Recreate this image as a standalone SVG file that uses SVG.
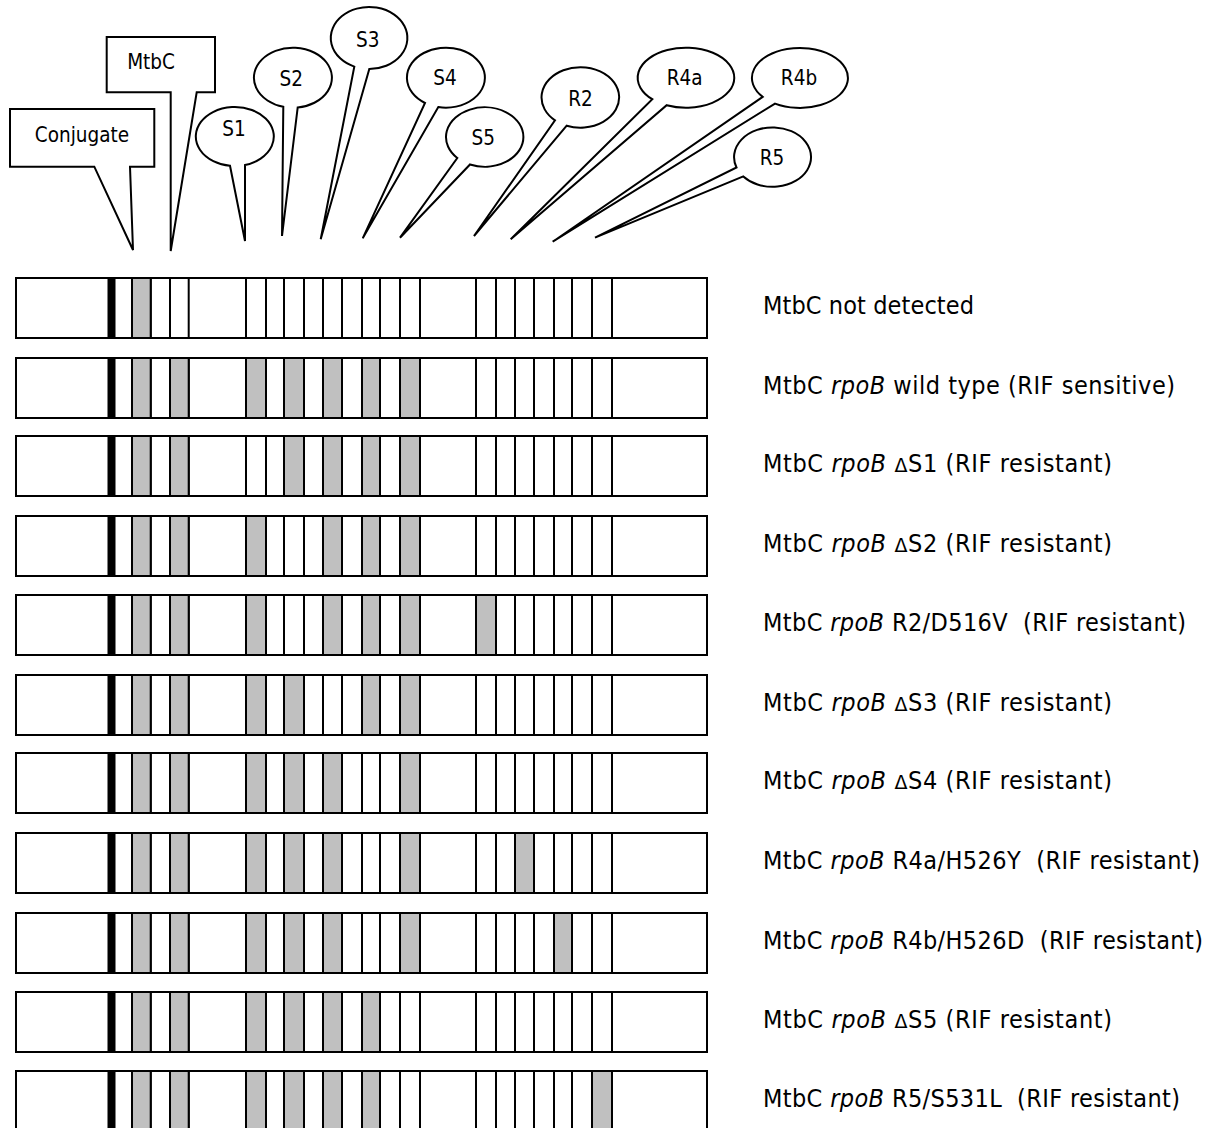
<svg xmlns="http://www.w3.org/2000/svg" xmlns:xlink="http://www.w3.org/1999/xlink" width="1213" height="1128" viewBox="0 0 1213 1128">
<style>
  .co { fill: #fff; stroke: #000; stroke-width: 2; stroke-linejoin: miter; }
  .ct { font-family: "DejaVu Sans Condensed", "DejaVu Sans", sans-serif; font-stretch: condensed; font-size: 20.5px; fill: #000; text-anchor: middle; }
  .lbl { font-family: "DejaVu Sans Condensed", "DejaVu Sans", sans-serif; font-stretch: condensed; font-size: 25px; fill: #000; }
  .it { font-style: italic; }
  .dl { font-family: "DejaVu Sans", sans-serif; font-stretch: normal; font-size: 19px; }
  .frame { fill: #fff; stroke: #000; stroke-width: 2; }
  .w { fill: #fff; stroke: #000; stroke-width: 2; }
  .g { fill: #c0c0c0; stroke: #000; stroke-width: 2; }
  .blk { fill: #000; stroke: #000; stroke-width: 1; }
</style>
<defs>
  <g id="strip">
    <rect class="frame" x="16" y="0" width="691" height="60"/>
    <rect class="blk" x="108" y="0" width="7" height="60"/>
    <rect class="w" x="132" y="0" width="18.7" height="60"/>
    <rect class="w" x="170" y="0" width="18.7" height="60"/>
    <rect class="w" x="246" y="0" width="20" height="60"/>
    <rect class="w" x="284" y="0" width="20" height="60"/>
    <rect class="w" x="323" y="0" width="19" height="60"/>
    <rect class="w" x="362" y="0" width="18" height="60"/>
    <rect class="w" x="400" y="0" width="20" height="60"/>
    <rect class="w" x="476" y="0" width="20" height="60"/>
    <rect class="w" x="515" y="0" width="19" height="60"/>
    <rect class="w" x="554" y="0" width="18" height="60"/>
    <rect class="w" x="592" y="0" width="20" height="60"/>
  </g>
  <rect id="bC" class="g" x="132" y="0" width="18.7" height="60"/>
  <rect id="bM" class="g" x="170" y="0" width="18.7" height="60"/>
  <rect id="bS1" class="g" x="246" y="0" width="20" height="60"/>
  <rect id="bS2" class="g" x="284" y="0" width="20" height="60"/>
  <rect id="bS3" class="g" x="323" y="0" width="19" height="60"/>
  <rect id="bS4" class="g" x="362" y="0" width="18" height="60"/>
  <rect id="bS5" class="g" x="400" y="0" width="20" height="60"/>
  <rect id="bR2" class="g" x="476" y="0" width="20" height="60"/>
  <rect id="bR4a" class="g" x="515" y="0" width="19" height="60"/>
  <rect id="bR4b" class="g" x="554" y="0" width="18" height="60"/>
  <rect id="bR5" class="g" x="592" y="0" width="20" height="60"/>
</defs>
<rect x="0" y="0" width="1213" height="1128" fill="#fff"/>

<g id="callouts">
  <g id="callout-conjugate">
    <path class="co" d="M130 166.7 L154.3 166.7 L154.3 109 L10 109 L10 166.7 L94.3 166.7 L133 250 Z"/>
    <text class="ct" x="82" y="141.5">Conjugate</text>
  </g>
  <g id="callout-mtbc">
    <path class="co" d="M196.7 92.3 L215 92.3 L215 37 L106.7 37 L106.7 92.3 L170.7 92.3 L170.7 251 Z"/>
    <text class="ct" x="151" y="69.3">MtbC</text>
  </g>
  <g id="callout-s1">
    <path class="co" d="M245 165 A39 29.5 0 1 0 230 165.8 L245 241 Z"/>
    <text class="ct" x="234" y="136">S1</text>
  </g>
  <g id="callout-s2">
    <path class="co" d="M297.7 107.5 A39 30 0 1 0 283.3 106.8 L282 236 Z"/>
    <text class="ct" x="291.3" y="86">S2</text>
  </g>
  <g id="callout-s3">
    <path class="co" d="M369.3 69 A38.3 31 0 1 0 354.3 66.6 L320.7 239.3 Z"/>
    <text class="ct" x="367.7" y="46.7">S3</text>
  </g>
  <g id="callout-s4">
    <path class="co" d="M438.3 107.1 A39 30 0 1 0 425 103 L362.7 238.3 Z"/>
    <text class="ct" x="445" y="85">S4</text>
  </g>
  <g id="callout-s5">
    <path class="co" d="M470 164.5 A38.7 29.7 0 1 0 457.3 158 L400 237.7 Z"/>
    <text class="ct" x="483.3" y="145">S5</text>
  </g>
  <g id="callout-r2">
    <path class="co" d="M566.7 125.7 A38.8 30.2 0 1 0 555 120.3 L474 236 Z"/>
    <text class="ct" x="580.5" y="106">R2</text>
  </g>
  <g id="callout-r4a">
    <path class="co" d="M666.7 105.2 A48.3 30 0 1 0 652.3 99.2 L510.7 239.3 Z"/>
    <text class="ct" x="684.7" y="85">R4a</text>
  </g>
  <g id="callout-r4b">
    <path class="co" d="M775 103.6 A48 30 0 1 0 762.7 96.9 L552.7 241.7 Z"/>
    <text class="ct" x="799" y="85">R4b</text>
  </g>
  <g id="callout-r5">
    <path class="co" d="M743.3 176.4 A38.5 29.7 0 1 0 736.5 167.5 L595 237.7 Z"/>
    <text class="ct" x="772" y="165">R5</text>
  </g>
</g>

<g id="connectors"></g>

<g id="row-1" transform="translate(0,278)">
  <use href="#strip"/><use href="#bC"/>
  <text class="lbl" x="763" y="35.5" textLength="211">MtbC not detected</text>
</g>
<g id="row-2" transform="translate(0,358)">
  <use href="#strip"/><use href="#bC"/><use href="#bM"/><use href="#bS1"/><use href="#bS2"/><use href="#bS3"/><use href="#bS4"/><use href="#bS5"/>
  <text class="lbl" x="763" y="35.5" textLength="412">MtbC <tspan class="it">rpoB</tspan> wild type (RIF sensitive)</text>
</g>
<g id="row-3" transform="translate(0,436)">
  <use href="#strip"/><use href="#bC"/><use href="#bM"/><use href="#bS2"/><use href="#bS3"/><use href="#bS4"/><use href="#bS5"/>
  <text class="lbl" x="763" y="35.5" textLength="349">MtbC <tspan class="it">rpoB</tspan> <tspan class="dl">Δ</tspan>S1 (RIF resistant)</text>
</g>
<g id="row-4" transform="translate(0,516)">
  <use href="#strip"/><use href="#bC"/><use href="#bM"/><use href="#bS1"/><use href="#bS3"/><use href="#bS4"/><use href="#bS5"/>
  <text class="lbl" x="763" y="35.5" textLength="349">MtbC <tspan class="it">rpoB</tspan> <tspan class="dl">Δ</tspan>S2 (RIF resistant)</text>
</g>
<g id="row-5" transform="translate(0,595)">
  <use href="#strip"/><use href="#bC"/><use href="#bM"/><use href="#bS1"/><use href="#bS3"/><use href="#bS4"/><use href="#bS5"/><use href="#bR2"/>
  <text class="lbl" x="763" y="35.5" textLength="423" xml:space="preserve">MtbC <tspan class="it">rpoB</tspan> R2/D516V  (RIF resistant)</text>
</g>
<g id="row-6" transform="translate(0,675)">
  <use href="#strip"/><use href="#bC"/><use href="#bM"/><use href="#bS1"/><use href="#bS2"/><use href="#bS4"/><use href="#bS5"/>
  <text class="lbl" x="763" y="35.5" textLength="349">MtbC <tspan class="it">rpoB</tspan> <tspan class="dl">Δ</tspan>S3 (RIF resistant)</text>
</g>
<g id="row-7" transform="translate(0,753)">
  <use href="#strip"/><use href="#bC"/><use href="#bM"/><use href="#bS1"/><use href="#bS2"/><use href="#bS3"/><use href="#bS5"/>
  <text class="lbl" x="763" y="35.5" textLength="349">MtbC <tspan class="it">rpoB</tspan> <tspan class="dl">Δ</tspan>S4 (RIF resistant)</text>
</g>
<g id="row-8" transform="translate(0,833)">
  <use href="#strip"/><use href="#bC"/><use href="#bM"/><use href="#bS1"/><use href="#bS2"/><use href="#bS3"/><use href="#bS5"/><use href="#bR4a"/>
  <text class="lbl" x="763" y="35.5" textLength="437" xml:space="preserve">MtbC <tspan class="it">rpoB</tspan> R4a/H526Y  (RIF resistant)</text>
</g>
<g id="row-9" transform="translate(0,913)">
  <use href="#strip"/><use href="#bC"/><use href="#bM"/><use href="#bS1"/><use href="#bS2"/><use href="#bS3"/><use href="#bS5"/><use href="#bR4b"/>
  <text class="lbl" x="763" y="35.5" textLength="440" xml:space="preserve">MtbC <tspan class="it">rpoB</tspan> R4b/H526D  (RIF resistant)</text>
</g>
<g id="row-10" transform="translate(0,992)">
  <use href="#strip"/><use href="#bC"/><use href="#bM"/><use href="#bS1"/><use href="#bS2"/><use href="#bS3"/><use href="#bS4"/>
  <text class="lbl" x="763" y="35.5" textLength="349">MtbC <tspan class="it">rpoB</tspan> <tspan class="dl">Δ</tspan>S5 (RIF resistant)</text>
</g>
<g id="row-11" transform="translate(0,1071)">
  <use href="#strip"/><use href="#bC"/><use href="#bM"/><use href="#bS1"/><use href="#bS2"/><use href="#bS3"/><use href="#bS4"/><use href="#bR5"/>
  <text class="lbl" x="763" y="35.5" textLength="417" xml:space="preserve">MtbC <tspan class="it">rpoB</tspan> R5/S531L  (RIF resistant)</text>
</g>
</svg>
